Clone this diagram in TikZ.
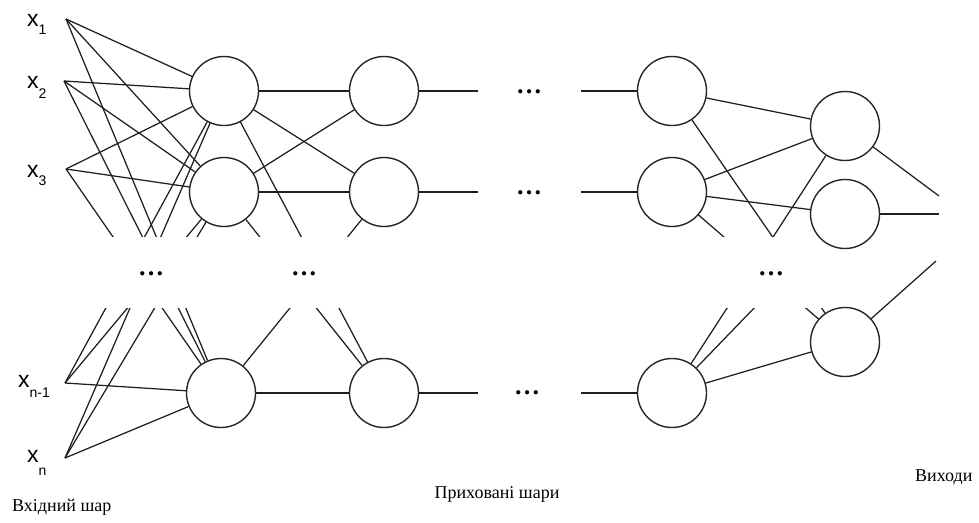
\documentclass[tikz,border=0pt]{standalone}
\usepackage{fontspec}
\setmainfont{Liberation Serif}
\newfontfamily\labelsans{Liberation Sans}
\usetikzlibrary{backgrounds}

% input label: x with a lowered subscript (drop, subscript text)
\newcommand{\inx}[2]{x\raisebox{-#1pt}{\fontsize{14}{14}\selectfont #2}}

\begin{document}
\begin{tikzpicture}[x=1pt,y=-1pt,
  neuron/.style={circle,draw=black!85,line width=1.4pt,minimum size=69pt,inner sep=0pt},
  link/.style={draw=black!88,line width=1.25pt},
  inlabel/.style={anchor=base west,inner sep=0pt,font=\labelsans\fontsize{23}{23}\selectfont},
  caption/.style={anchor=base,inner sep=0pt,font=\fontsize{18}{18}\selectfont},
  gapdots/.style={anchor=base,inner sep=0pt,font=\bfseries\fontsize{26}{26}\selectfont},
]
\useasboundingbox (0,0) rectangle (979,522);

% input labels and the points the links leave from
\node[inlabel] (l1) at (27,27)  {\inx{8}{1}};
\node[inlabel] (l2) at (27,88)  {\inx{10}{2}};
\node[inlabel] (l3) at (27,177) {\inx{8}{3}};
\node[inlabel] (l4) at (18,387) {\inx{10}{n-1}};
\node[inlabel] (l5) at (27,462) {\inx{13}{n}};
\coordinate (i1) at (66,19);
\coordinate (i2) at (64,81);
\coordinate (i3) at (66,169);
\coordinate (i4) at (65,383);
\coordinate (i5) at (65,458);

% first hidden layer
\node[neuron] (A1) at (224,91)  {};
\node[neuron] (A2) at (224,192) {};
\node[neuron] (A3) at (221,393) {};
% second hidden layer
\node[neuron] (B1) at (384,91)  {};
\node[neuron] (B2) at (384,192) {};
\node[neuron] (B3) at (384,393) {};
% last hidden layer
\node[neuron] (C1) at (672,91)  {};
\node[neuron] (C2) at (672,192) {};
\node[neuron] (C3) at (672,393) {};
% output layer
\node[neuron] (D1) at (845,126) {};
\node[neuron] (D2) at (845,214) {};
\node[neuron] (D3) at (845,342) {};

% loose ends of the links around the omitted layers
\coordinate (b1o) at (478,91);
\coordinate (b2o) at (478,192);
\coordinate (b3o) at (478,393);
\coordinate (c1i) at (581,91);
\coordinate (c2i) at (581,192);
\coordinate (c3i) at (581,393);
\coordinate (o1) at (939,196);
\coordinate (o2) at (939,214);
\coordinate (o3) at (936,261);

\begin{pgfonlayer}{background}
  \foreach \s in {i1,i2,i3,i4,i5}
    \foreach \t in {A1,A2,A3}
      \draw[link] (\s) -- (\t);
  \foreach \s/\t in {A1/B1,A1/B2,A1/B3,A2/B1,A2/B2,A2/B3,A3/B2,A3/B3}
    \draw[link] (\s) -- (\t);
  \draw[link] (B1) -- (b1o);
  \draw[link] (B2) -- (b2o);
  \draw[link] (B3) -- (b3o);
  \draw[link] (c1i) -- (C1);
  \draw[link] (c2i) -- (C2);
  \draw[link] (c3i) -- (C3);
  \foreach \s/\t in {C1/D1,C1/D3,C2/D1,C2/D2,C2/D3,C3/D1,C3/D2,C3/D3}
    \draw[link] (\s) -- (\t);
  \draw[link] (D1) -- (o1);
  \draw[link] (D2) -- (o2);
  \draw[link] (D3) -- (o3);
  % band of omitted neurons
  \fill[white] (90,237) rectangle (870,308);
\end{pgfonlayer}

% ellipses for omitted neurons and layers
\node[gapdots] (g1) at (151,275) {…};
\node[gapdots] (g2) at (304,275) {…};
\node[gapdots] (g3) at (771,275) {…};
\node[gapdots] (h1) at (529,93)  {…};
\node[gapdots] (h2) at (529,194) {…};
\node[gapdots] (h3) at (527,394) {…};

% layer captions
\node[caption,anchor=base west] (cin) at (12,511) {Вхідний шар};
\node[caption] (chid) at (497,498) {Приховані шари};
\node[caption,anchor=base west] (cout) at (915,481) {Виходи};
\end{tikzpicture}
\end{document}
